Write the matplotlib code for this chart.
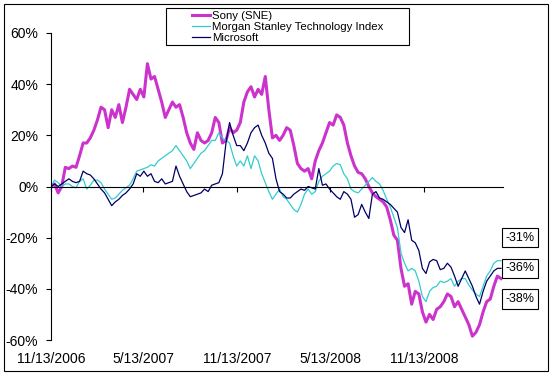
import numpy as np
import pandas as pd
import matplotlib
matplotlib.use("Agg")
import matplotlib.pyplot as plt
import matplotlib.dates as mdates
from matplotlib.patches import Rectangle
from matplotlib.ticker import PercentFormatter, FixedLocator

plt.rcParams['font.family'] = ['Liberation Sans', 'DejaVu Sans']
plt.rcParams['axes.unicode_minus'] = False

# weekly closes, % change since 11/13/2006
dates = pd.date_range('2006-11-13', periods=127, freq='7D')

sony = [0, 1, -2.5, 0, 7.5, 7, 8, 7.5, 12, 17,
        17, 19, 22, 26, 31, 30, 23, 30, 27, 32,
        25, 31, 38, 36, 34, 38, 35, 48, 42, 43,
        38, 33, 27, 30, 33, 31, 32, 27, 21, 17,
        14.5, 21, 18, 17, 18, 21, 27, 25, 17, 18,
        23, 21, 22, 25, 33, 37, 39, 35, 38, 36,
        43, 30, 19, 20, 18, 20, 23, 22, 16, 9,
        7, 6, 7, 3, 10, 14, 17, 21, 25, 24,
        28, 27, 24, 17, 12, 8, 5.5, 5, 3, 0,
        -2.5, -4, -5, -6, -8, -13, -19, -21, -32, -39,
        -38, -46, -41, -42, -49, -53, -50, -52, -48, -47,
        -45, -42, -43, -47, -45, -48, -51, -54, -58.5, -57,
        -54, -49, -45, -44, -39, -35, -36]

ms_tech = [0, 2.5, 1.5, 0, 1, 1, 0, -0.5, 2, 3,
           -1, 0.5, 2.5, 2.5, 1.5, -1, -3, -5, -4.5, -3,
           -1.5, -0.5, 0.5, 3, 6, 6.5, 7, 7.5, 8.5, 8,
           10, 11, 12, 13, 14, 16, 14, 12, 10, 7,
           9, 11, 13, 14, 16, 18, 18, 21, 19, 18,
           17, 12, 8, 10, 8, 12, 7, 12, 10, 5,
           1.5, -2, -5, -3, -1, -4, -5, -7, -9, -10,
           -7, -3, -1, -3, -2, 2, 4, 5, 6, 8,
           9, 8.5, 5, 3, -1, -2, -2.5, -1, 0.5, 2,
           3.5, 2, 1, -1.5, -5, -8, -12, -16, -26, -30,
           -33, -32, -33, -37, -43, -45, -41, -39.5, -39, -37,
           -37.5, -37, -36, -39, -37, -36, -36, -38.5, -40.5, -42,
           -43, -39, -35, -33, -30, -29, -29]

msft = [0, 1, 0, 1, 2, 3, 2, 1.5, 2, 6,
        5, 4.5, 3, 1, -1, -2.5, -5, -7.5, -6, -5,
        -3.5, -2.5, -1, 1, 5, 4, 6, 4, 5, 2,
        1.5, 3, 1, 1.5, 2, 8, 4, 1, -2, -4,
        -3.5, -3, -2.5, -1, -2, 0.5, 1, 1.5, 5, 17,
        25, 20, 16, 16, 14, 17, 21, 23, 24, 20,
        17, 13, 11, 3, -2, -3, -4.5, -4.5, -3, -2,
        -1, -1.5, 0, -0.5, -1, 7, 0.5, 1, -1, -2.5,
        -4, -5, -2, -3, -5, -12, -11, -7, -10, -12.5,
        -3, -2, -4.5, -5, -6, -7, -8.5, -10, -16, -18,
        -13, -21, -22, -25, -32, -34, -29.5, -28.5, -29, -32.5,
        -32, -30, -31.5, -35, -39, -36, -33, -36, -39, -43,
        -46, -41, -37, -35, -33, -32, -32]

names = ['Sony (SNE)', 'Morgan Stanley Technology Index', 'Microsoft']
colors = ['#CC33CC', '#33CCCC', '#000066']
widths = [2.2, 0.9, 0.9]

tick_dates = pd.to_datetime(['2006-11-13', '2007-05-13', '2007-11-13',
                             '2008-05-13', '2008-11-13'])
tick_labels = ['11/13/2006', '5/13/2007', '11/13/2007', '5/13/2008', '11/13/2008']
end_labels = ['-31%', '-36%', '-38%']
end_label_y = [-20, -32, -44]

fig = plt.figure(figsize=(5.52, 3.76), dpi=100)
ax = fig.add_axes([51 / 552, 1 - 340 / 376, 452 / 552, 307 / 376])

for vals, name, c, lw in zip([sony, ms_tech, msft], names, colors, widths):
    ax.plot(dates, vals, color=c, lw=lw, label=name)

ax.set_ylim(-60, 60)
ax.set_xlim(pd.Timestamp('2006-11-13'), pd.Timestamp('2009-04-17'))
ax.yaxis.set_major_locator(FixedLocator(np.arange(-60, 61, 20)))
ax.yaxis.set_major_formatter(PercentFormatter(decimals=0))
ax.tick_params(axis='y', direction='out', length=3.6, width=0.8, pad=5.5,
               labelsize=10, colors='black')

# x axis sits on the 0% line
ax.spines['top'].set_visible(False)
ax.spines['right'].set_visible(False)
ax.spines['bottom'].set_position(('data', 0))
ax.spines['left'].set_linewidth(0.8)
ax.spines['bottom'].set_linewidth(0.8)
ax.set_xticks(mdates.date2num(tick_dates))
ax.set_xticklabels([])
ax.tick_params(axis='x', direction='out', length=3.6, width=0.8)
for d, lab in zip(tick_dates, tick_labels):
    ax.text(d, -0.062, lab, transform=ax.get_xaxis_transform(),
            ha='center', va='center', fontsize=10, clip_on=False)

# boxed end-of-period labels
for lab, yv in zip(end_labels, end_label_y):
    ax.text(1.0376, yv, lab, transform=ax.get_yaxis_transform(),
            ha='center', va='center', fontsize=9, clip_on=False,
            bbox=dict(boxstyle='square,pad=0.3', fc='white', ec='black', lw=0.8))

# legend with a separate frame
fig.patches.append(Rectangle((166 / 552, 1 - 45 / 376), 243 / 552, 37 / 376,
                             transform=fig.transFigure, fill=False,
                             ec='black', lw=0.8))
ax.legend(loc='upper left', bbox_to_anchor=(192 / 552, 1 - 11 / 376),
          bbox_transform=fig.transFigure, frameon=False, fontsize=8.2,
          borderpad=0, borderaxespad=0, handlelength=1.6, handletextpad=0.15,
          labelspacing=0.1)

# chart border
fig.patches.append(Rectangle((4 / 552, 1 - 371 / 376), 544 / 552, 367 / 376,
                             transform=fig.transFigure, fill=False,
                             ec='black', lw=0.8))

fig.savefig('out.png', dpi=100)
